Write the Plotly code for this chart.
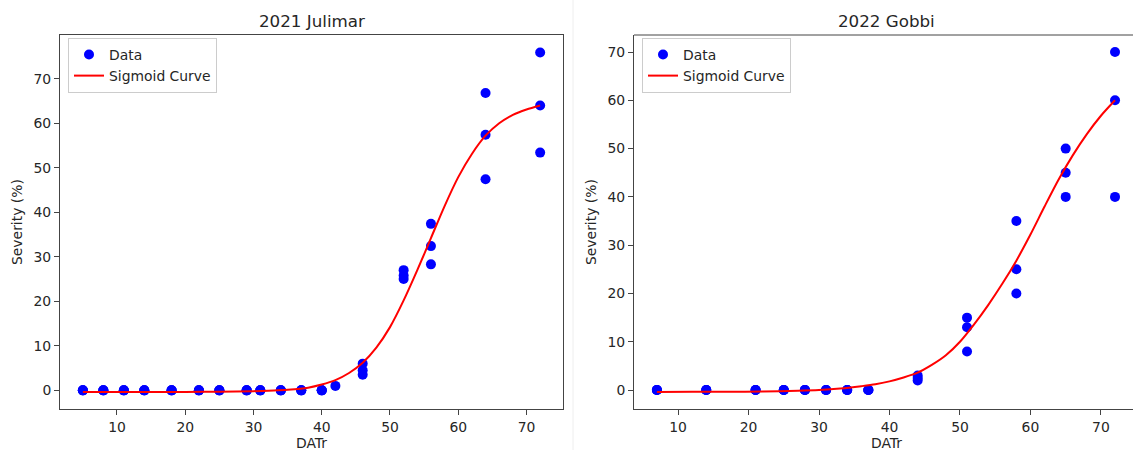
import plotly.graph_objects as go

# ---- 2021 Julimar: observed severity by days after transplanting ----
julimar_datr = [5, 5, 5, 8, 8, 8, 11, 11, 11, 14, 14, 14, 18, 18, 18,
                22, 22, 22, 25, 25, 25, 29, 29, 29, 31, 31, 31, 34, 34, 34,
                37, 37, 37, 40, 40, 40, 42, 46, 46, 46, 52, 52, 52,
                56, 56, 56, 64, 64, 64, 72, 72, 72]
julimar_sev = [0, 0, 0, 0, 0, 0, 0, 0, 0, 0, 0, 0, 0, 0, 0,
               0, 0, 0, 0, 0, 0, 0, 0, 0, 0, 0, 0, 0, 0, 0,
               0, 0, 0, 0, 0, 0, 1, 6, 4.5, 3.5, 27, 25.8, 25,
               37.4, 32.4, 28.3, 66.8, 57.4, 47.4, 75.9, 64.0, 53.4]

# fitted sigmoid, sampled along DATr
julimar_fit_x = [5, 10, 15, 20, 25, 30, 33, 35, 38, 40, 42, 44, 46, 48, 50,
                 52, 54, 56, 58, 60, 62, 64, 66, 68, 70, 72]
julimar_fit_y = [-0.37, -0.37, -0.36, -0.35, -0.3, -0.18, -0.02, 0.15, 0.6,
                 1.3, 2.3, 3.9, 6.2, 9.6, 14.2, 20.2, 27.0, 34.2, 41.4,
                 47.9, 53.1, 57.2, 60.0, 61.9, 63.1, 64.0]

# ---- 2022 Gobbi ----
gobbi_datr = [7, 7, 7, 14, 14, 14, 21, 21, 21, 25, 25, 25, 28, 28, 28,
              31, 31, 31, 34, 34, 34, 37, 37, 37, 44, 44, 44,
              51, 51, 51, 58, 58, 58, 65, 65, 65, 72, 72, 72]
gobbi_sev = [0, 0, 0, 0, 0, 0, 0, 0, 0, 0, 0, 0, 0, 0, 0,
             0, 0, 0, 0, 0, 0, 0, 0, 0, 3, 2.5, 2,
             15, 13, 8, 35, 25, 20, 50, 45, 40, 70, 60, 40]

gobbi_fit_x = [7, 12, 17, 22, 27, 30, 33, 36, 38, 40, 42, 44, 46, 48, 50,
               52, 54, 56, 58, 60, 62, 64, 66, 68, 70, 72]
gobbi_fit_y = [-0.38, -0.37, -0.35, -0.3, -0.15, 0.0, 0.3, 0.8, 1.2, 1.8,
               2.6, 3.6, 5.2, 7.2, 10.0, 13.6, 17.6, 22.0, 26.8, 32.2,
               38.0, 43.6, 48.6, 53.0, 56.8, 60.0]

years = ["2021 Julimar", "2022 Gobbi"]
x_ticks = [10, 20, 30, 40, 50, 60, 70]
y_ticks = [0, 10, 20, 30, 40, 50, 60, 70]

W, H = 1133, 450
FONT = "DejaVu Sans"
TXT = "#262626"
LINE = "#444444"
TICK_SIZE = 13.9

fig = go.Figure()

panels = [
    (julimar_datr, julimar_sev, julimar_fit_x, julimar_fit_y, "x", "y", "legend"),
    (gobbi_datr, gobbi_sev, gobbi_fit_x, gobbi_fit_y, "x2", "y2", "legend2"),
]
for dx, dy, fx, fy, xa, ya, lg in panels:
    fig.add_trace(go.Scatter(
        x=dx, y=dy, mode="markers", name="Data",
        marker=dict(color="#0000ff", size=10, line=dict(width=0)),
        xaxis=xa, yaxis=ya, legend=lg))
    fig.add_trace(go.Scatter(
        x=fx, y=fy, mode="lines", name="Sigmoid Curve",
        line=dict(color="#ff0000", width=2, shape="spline", smoothing=0.8),
        xaxis=xa, yaxis=ya, legend=lg))

# plot-area geometry in pixels
left_box = (60, 563)
right_box = (634, 1133)
top_px, bot_px = 35, 409
ydom = [1 - bot_px / H, 1 - top_px / H]

axis_common = dict(
    showgrid=False, zeroline=False, showline=True, linecolor=LINE,
    linewidth=1, ticks="outside", ticklen=5, tickwidth=1, tickcolor=LINE,
    tickfont=dict(family=FONT, size=TICK_SIZE, color=TXT),
    automargin=False,
)

legend_style = dict(
    xanchor="left", yanchor="top", y=1 - 38 / H,
    bgcolor="rgba(255,255,255,0.8)", bordercolor="#cccccc", borderwidth=1,
    font=dict(family=FONT, size=TICK_SIZE, color=TXT),
)

fig.update_layout(
    width=W, height=H,
    margin=dict(l=0, r=0, t=0, b=0),
    paper_bgcolor="white", plot_bgcolor="white",
    font=dict(family=FONT, color=TXT),
    xaxis=dict(domain=[left_box[0] / W, left_box[1] / W], anchor="y",
               range=[1.65, 75.35], tickvals=x_ticks, mirror=True,
               **axis_common),
    yaxis=dict(domain=ydom, anchor="x", range=[-4.19, 79.82],
               tickvals=y_ticks, mirror=True, **axis_common),
    xaxis2=dict(domain=[right_box[0] / W, 1.0], anchor="y2",
                range=[3.75, 74.55], tickvals=x_ticks, mirror=False,
                **axis_common),
    yaxis2=dict(domain=ydom, anchor="x2", range=[-3.92, 73.52],
                tickvals=y_ticks, mirror=False, **axis_common),
    legend=dict(x=68 / W, **legend_style),
    legend2=dict(x=642 / W, **legend_style),
)

# top border of the right panel (its right edge runs off the page)
fig.add_shape(type="line", xref="x2 domain", yref="y2 domain",
              x0=0, x1=1, y0=1, y1=1, line=dict(color=LINE, width=1))

# faint separator between the two panels
fig.add_shape(type="line", xref="paper", yref="paper",
              x0=573 / W, x1=573 / W, y0=0, y1=1,
              line=dict(color="#eeeeee", width=1))

# titles and axis labels
for (x0, x1), title in zip([left_box, (634, 1138)], years):
    cx = (x0 + x1) / 2 / W
    fig.add_annotation(text=title, x=cx, y=1 - 20.5 / H, xref="paper",
                       yref="paper", showarrow=False, xanchor="center",
                       yanchor="middle",
                       font=dict(family=FONT, size=16.7, color=TXT))
    fig.add_annotation(text="DATr", x=cx, y=1 - 443 / H, xref="paper",
                       yref="paper", showarrow=False, xanchor="center",
                       yanchor="middle",
                       font=dict(family=FONT, size=TICK_SIZE, color=TXT))
    fig.add_annotation(text="Severity (%)", x=(x0 - 43) / W,
                       y=1 - (top_px + bot_px) / 2 / H, xref="paper",
                       yref="paper", showarrow=False, textangle=-90,
                       xanchor="center", yanchor="middle",
                       font=dict(family=FONT, size=TICK_SIZE, color=TXT))

fig.write_html("out.html")
